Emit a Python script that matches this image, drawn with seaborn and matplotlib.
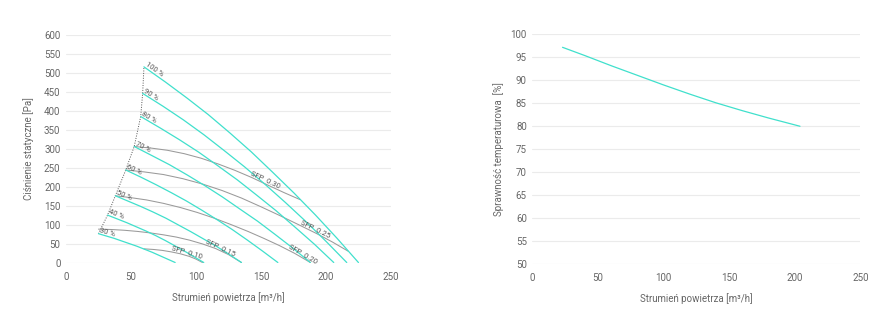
import numpy as np
import pandas as pd
import matplotlib
matplotlib.use("Agg")
import matplotlib.pyplot as plt
import seaborn as sns

# ---- fan curves: airflow [m3/h] vs static pressure [Pa] per speed step ----
speed_labels = ["30 %", "40 %", "50 %", "60 %", "70 %", "80 %", "90 %", "100 %"]
fan_flow = [
    [25, 30.9, 36.8, 42.7, 48.6, 54.5, 60.4, 66.3, 72.2, 78.1, 84],
    [32, 39.4, 46.8, 54.2, 61.6, 69, 76.4, 83.8, 91.2, 98.6, 106],
    [38, 47.7, 57.4, 67.1, 76.8, 86.5, 96.2, 105.9, 115.6, 125.3, 135],
    [46, 57.7, 69.4, 81.1, 92.8, 104.5, 116.2, 127.9, 139.6, 151.3, 163],
    [52.5, 66.1, 79.6, 93.2, 106.7, 120.3, 133.8, 147.4, 160.9, 174.5, 188],
    [57.5, 72.4, 87.2, 102.1, 116.9, 131.8, 146.6, 161.5, 176.3, 191.2, 206],
    [59, 74.7, 90.4, 106.1, 121.8, 137.5, 153.2, 168.9, 184.6, 200.3, 216],
    [60, 76.5, 93, 109.5, 126, 142.5, 159, 175.5, 192, 208.5, 225],
]
fan_pressure = [
    [76, 70, 64, 57, 50, 43, 35, 27, 18, 9, 0],
    [125, 115, 105, 94, 83, 71, 58, 44, 30, 15, 0],
    [176, 162, 148, 133, 117, 99, 81, 62, 43, 22, 0],
    [244, 225, 205, 184, 162, 138, 113, 87, 59, 30, 0],
    [306, 282, 258, 231, 203, 173, 141, 109, 74, 38, 0],
    [385, 355, 324, 291, 255, 218, 178, 137, 93, 48, 0],
    [446, 412, 376, 337, 295, 252, 206, 158, 108, 55, 0],
    [516, 476, 434, 390, 342, 292, 238, 183, 125, 64, 0],
]

# ---- iso-SFP lines ----
sfp_labels = ["SFP  0.10", "SFP  0.15", "SFP  0.20", "SFP  0.25", "SFP  0.30"]
sfp_flow = [
    [60, 67, 74, 81, 88, 95, 100, 105],
    [25, 35, 45, 55, 65, 75, 85, 95, 105, 115, 125, 135],
    [38, 50, 62, 75, 88, 101, 114, 127, 140, 152, 164, 176, 188],
    [46, 60, 75, 90, 105, 120, 135, 150, 165, 180, 193, 205, 217],
    [52.5, 65, 78, 91, 104, 117, 130, 143, 156, 168, 180],
]
sfp_pressure = [
    [36, 34.5, 32, 28, 23, 16, 9, 0],
    [88, 87, 85, 82, 78, 73, 67, 59, 49, 37, 21, 0],
    [176, 171, 165, 156, 145, 132, 117, 100, 82, 64, 45, 24, 0],
    [244, 239, 232, 221, 207, 190, 170, 147, 123, 98, 76, 54, 30],
    [306, 302, 296, 287, 275, 260, 243, 224, 203, 184, 166],
]
sfp_label_flow = [92, 118, 181, 191, 152]

# ---- temperature efficiency ----
eff_flow = [23, 40, 60, 80, 100, 120, 140, 160, 180, 204]
eff_value = [97.1, 95.3, 93.1, 91.0, 88.9, 86.9, 85.0, 83.3, 81.7, 79.9]

x_ticks = [0, 50, 100, 150, 200, 250]
p_ticks = list(range(0, 601, 50))
e_ticks = list(range(50, 101, 5))

TEAL = "#40e0cc"
GREY = "#9a9a9a"
TXT = "#666666"

sns.set_theme(style="whitegrid")
plt.rcParams["font.family"] = ["Roboto", "DejaVu Sans"]

fig = plt.figure(figsize=(8.95, 3.33), dpi=100)
ax1 = fig.add_axes([0.0737, 0.2117, 0.3631, 0.6832])
ax2 = fig.add_axes([0.5948, 0.2087, 0.3665, 0.6892])


def style_axes(ax):
    for s in ax.spines.values():
        s.set_visible(False)
    ax.grid(axis="y", color="#ebebeb", linewidth=0.8)
    ax.grid(axis="x", visible=False)
    ax.tick_params(length=0, labelsize=7, colors=TXT)
    ax.tick_params(axis="y", pad=4)
    ax.tick_params(axis="x", pad=7)
    ax.set_facecolor("white")


def angle_at(ax, xs, ys, x0, dx=1.0):
    y0 = np.interp(x0, xs, ys)
    y1 = np.interp(x0 + dx, xs, ys)
    p0 = ax.transData.transform((x0, y0))
    p1 = ax.transData.transform((x0 + dx, y1))
    return np.degrees(np.arctan2(p1[1] - p0[1], p1[0] - p0[0])), y0


# ---------------- left: pressure chart ----------------
style_axes(ax1)
ax1.set_xlim(0, 250)
ax1.set_ylim(0, 600)
ax1.set_xticks(x_ticks)
ax1.set_yticks(p_ticks)

# boundary through the curve start points
start_q = [q[0] for q in fan_flow]
start_p = [p[0] for p in fan_pressure]
sns.lineplot(x=start_q, y=start_p, ax=ax1, sort=False, estimator=None,
             color="#555555", linestyle=(0, (1, 1.5)), linewidth=0.7)

for q, p in zip(sfp_flow, sfp_pressure):
    sns.lineplot(x=q, y=p, ax=ax1, sort=False, estimator=None,
                 color=GREY, linewidth=0.75)

for q, p in zip(fan_flow, fan_pressure):
    sns.lineplot(x=q, y=p, ax=ax1, sort=False, estimator=None,
                 color=TEAL, linewidth=0.9)

for lab, q, p in zip(speed_labels, fan_flow, fan_pressure):
    ang, y0 = angle_at(ax1, q, p, q[0])
    ax1.text(q[0], p[0] + 2, lab, rotation=ang, rotation_mode="anchor",
             ha="left", va="bottom", fontsize=5.5, color="#555555")

for lab, q, p, qx in zip(sfp_labels, sfp_flow, sfp_pressure, sfp_label_flow):
    ang, y0 = angle_at(ax1, q, p, qx)
    ax1.text(qx, y0, lab, rotation=ang, rotation_mode="anchor",
             ha="center", va="bottom", fontsize=5.5, color="#555555")

ax1.set_xlabel("Strumień powietrza [m³/h]", fontsize=7, color=TXT, labelpad=7)
ax1.set_ylabel("Ciśnienie statyczne [Pa]", fontsize=7, color=TXT, labelpad=7)

# ---------------- right: efficiency chart ----------------
style_axes(ax2)
ax2.set_xlim(0, 250)
ax2.set_ylim(50, 100)
ax2.set_xticks(x_ticks)
ax2.set_yticks(e_ticks)
eff_df = pd.DataFrame({"flow": eff_flow, "eff": eff_value})
sns.lineplot(data=eff_df, x="flow", y="eff", ax=ax2, color=TEAL, linewidth=0.9)
ax2.set_xlabel("Strumień powietrza [m³/h]", fontsize=7, color=TXT, labelpad=7)
ax2.set_ylabel("Sprawność temperaturowa  [%]", fontsize=7, color=TXT, labelpad=5)

fig.savefig("out.png", dpi=100, facecolor="white")
